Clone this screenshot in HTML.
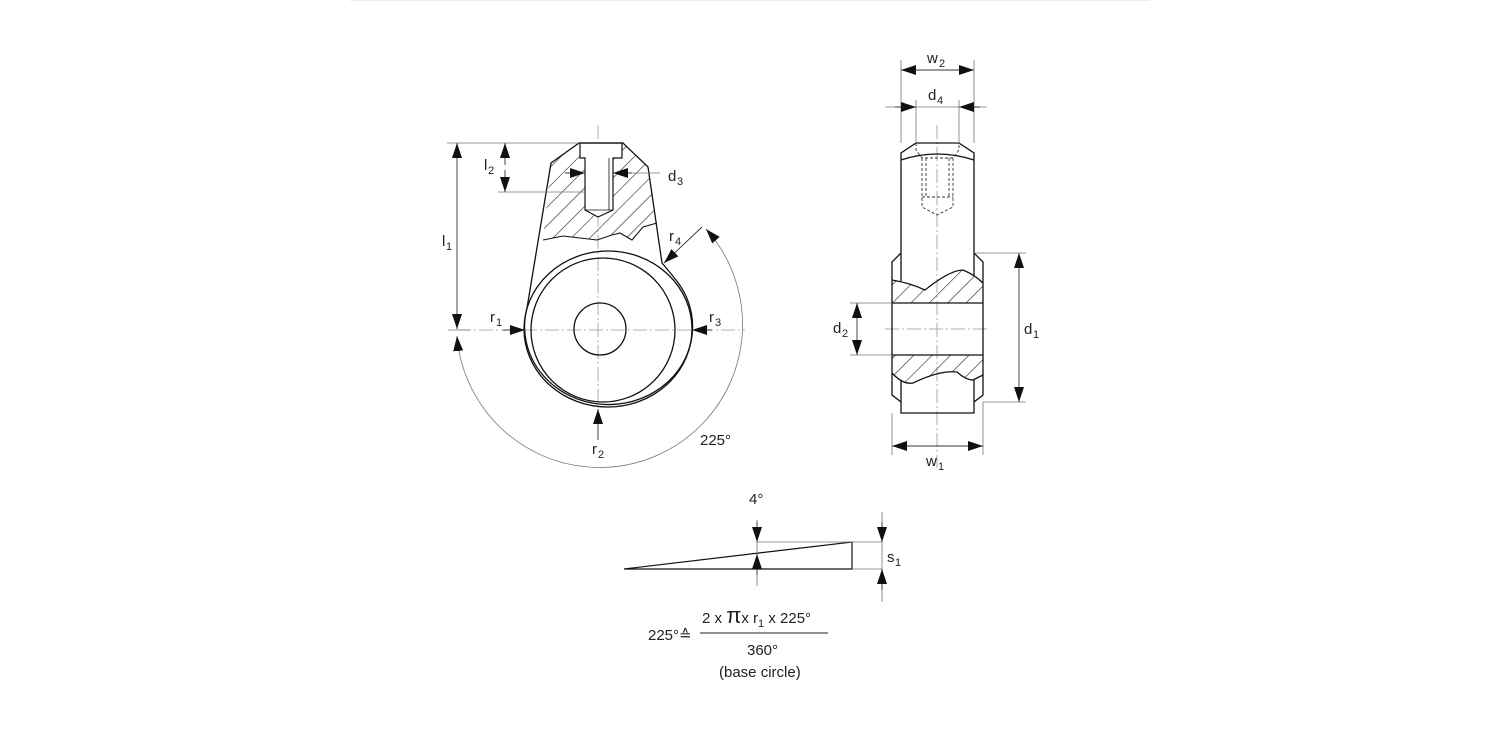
<!DOCTYPE html>
<html><head><meta charset="utf-8"><style>
html,body{margin:0;padding:0;background:#fff;width:1500px;height:750px;overflow:hidden}
svg{display:block}
text{font-family:"Liberation Sans",Arial,sans-serif;font-size:15px;fill:#222}
.s{font-size:11px}
</style></head><body>
<svg width="1500" height="750" viewBox="0 0 1500 750" xmlns="http://www.w3.org/2000/svg">
<defs>
<marker id="a" markerUnits="userSpaceOnUse" markerWidth="16" markerHeight="10" refX="15" refY="5" orient="auto-start-reverse"><path d="M0,0 L15,5 L0,10 Z" fill="#111"/></marker>
<pattern id="h" patternUnits="userSpaceOnUse" width="13" height="13" patternTransform="rotate(-45)"><line x1="0" y1="0" x2="13" y2="0" stroke="#222" stroke-width="1.2"/></pattern>
</defs>
<line x1="350" y1="0.5" x2="1150" y2="0.5" stroke="#eee" stroke-width="1"/>
<g fill="none" stroke="#999" stroke-width="0.8" stroke-dasharray="14,3,2,3">
<line x1="598" y1="125" x2="598" y2="440"/>
<line x1="457" y1="330" x2="745" y2="330"/>
<line x1="937" y1="125" x2="937" y2="468"/>
<line x1="885" y1="329" x2="990" y2="329"/>
</g>
<!-- LEFT VIEW -->
<path d="M551,163 L543,240 L563,236 L580,238 L597,240 L612,235 L620,233 L632,240 L643,227 L657,223 L648,167 L623,143 L579,143 Z" fill="url(#h)" stroke="none"/>
<path d="M580,143 L622,143 L622,158 L613,158 L613,210 L598,217 L585,210 L585,158 L580,158 Z" fill="#fff" stroke="#111" stroke-width="1.2"/>
<line x1="609" y1="158" x2="609" y2="210" stroke="#111" stroke-width="0.8"/>
<line x1="585" y1="210" x2="613" y2="210" stroke="#111" stroke-width="0.8"/>
<polyline points="543,240 563,236 580,238 597,240 612,235 620,233 632,240 643,227 657,223" fill="none" stroke="#111" stroke-width="1.1"/>
<path d="M579,143 L623,143 L648,167 L662,263 Q668,270 676,280 A84,78 0 1 1 527,308 L551,163 Z" fill="none" stroke="#111" stroke-width="1.3"/>
<ellipse cx="608" cy="329" rx="84" ry="78" fill="none" stroke="#111" stroke-width="1.3"/>
<circle cx="603" cy="330" r="72" fill="none" stroke="#111" stroke-width="1.3"/>
<circle cx="600" cy="329" r="26" fill="none" stroke="#111" stroke-width="1.3"/>
<g stroke="#777" stroke-width="0.8" fill="none">
<line x1="447" y1="143" x2="579" y2="143"/>
<line x1="498" y1="192" x2="585" y2="192"/>
<line x1="448" y1="330" x2="470" y2="330"/>
<line x1="614" y1="173" x2="660" y2="173"/>
</g>
<path d="M706,229 A143,143 0 1 1 457,336" fill="none" stroke="#777" stroke-width="0.8" marker-start="url(#a)" marker-end="url(#a)"/>
<g stroke="#333" stroke-width="0.9" fill="none" marker-end="url(#a)">
<line x1="457" y1="236" x2="457" y2="143"/>
<line x1="457" y1="236" x2="457" y2="329"/>
<line x1="505" y1="165" x2="505" y2="143"/>
<line x1="505" y1="170" x2="505" y2="192"/>
<line x1="565" y1="173" x2="585" y2="173"/>
<line x1="632" y1="173" x2="613" y2="173"/>
<line x1="503" y1="330" x2="525" y2="330"/>
<line x1="712" y1="330" x2="692" y2="330"/>
<line x1="598" y1="440" x2="598" y2="409"/>
<line x1="702" y1="227" x2="664" y2="263"/>
</g>
<text x="442" y="246">l</text><text x="446" y="250" class="s">1</text>
<text x="484" y="170">l</text><text x="488" y="174" class="s">2</text>
<text x="668" y="181">d</text><text x="677" y="185" class="s">3</text>
<text x="669" y="241">r</text><text x="675" y="245" class="s">4</text>
<text x="490" y="322">r</text><text x="496" y="326" class="s">1</text>
<text x="709" y="322">r</text><text x="715" y="326" class="s">3</text>
<text x="592" y="454">r</text><text x="598" y="458" class="s">2</text>
<text x="700" y="445">225°</text>
<!-- RIGHT VIEW -->
<path d="M892,280 Q910,283 925,290 Q950,270 963,270 Q975,275 983,283 L983,303 L892,303 Z" fill="url(#h)"/>
<path d="M892,355 L983,355 L983,375 L973,380 Q966,380 957,372 Q940,370 913,383 Q903,385 892,373 Z" fill="url(#h)"/>
<g fill="none" stroke="#111" stroke-width="1.3">
<path d="M901,281 L901,153 L916,143 L959,143 L974,153 L974,276"/>
<path d="M901,160 Q937,148 974,160"/>
<path d="M901,253 L892,262 L892,395 L901,402 L901,413 L974,413 L974,402 L983,395 L983,262 L974,253"/>
<path d="M892,280 Q910,283 925,290 Q950,270 963,270 Q975,275 983,283"/>
<path d="M892,373 Q903,385 913,383 Q940,370 957,372 Q966,380 973,380 L983,375"/>
<line x1="892" y1="303" x2="983" y2="303"/>
<line x1="892" y1="355" x2="983" y2="355"/>
<line x1="901" y1="380" x2="901" y2="402"/>
<line x1="974" y1="380" x2="974" y2="402"/>
</g>
<g fill="none" stroke="#333" stroke-width="0.9" stroke-dasharray="3,2">
<path d="M916,143 L916,150 L922,158 L953,158 L959,150 L959,143"/>
<path d="M922,158 L922,207 L937,215 L953,207 L953,158"/>
<line x1="926" y1="158" x2="926" y2="197"/><line x1="949" y1="158" x2="949" y2="197"/>
<line x1="922" y1="197" x2="953" y2="197"/>
</g>
<g stroke="#777" stroke-width="0.8" fill="none">
<line x1="901" y1="60" x2="901" y2="143"/><line x1="974" y1="60" x2="974" y2="143"/>
<line x1="916" y1="100" x2="916" y2="143"/><line x1="959" y1="100" x2="959" y2="143"/>
<line x1="885" y1="107" x2="987" y2="107"/>
<line x1="850" y1="303" x2="892" y2="303"/><line x1="850" y1="355" x2="892" y2="355"/>
<line x1="974" y1="253" x2="1026" y2="253"/><line x1="983" y1="402" x2="1026" y2="402"/>
<line x1="892" y1="413" x2="892" y2="455"/><line x1="983" y1="402" x2="983" y2="455"/>
</g>
<g stroke="#333" stroke-width="0.9" fill="none" marker-end="url(#a)">
<line x1="937" y1="70" x2="901" y2="70"/><line x1="937" y1="70" x2="974" y2="70"/>
<line x1="895" y1="107" x2="916" y2="107"/><line x1="980" y1="107" x2="959" y2="107"/>
<line x1="857" y1="329" x2="857" y2="303"/><line x1="857" y1="329" x2="857" y2="355"/>
<line x1="1019" y1="328" x2="1019" y2="253"/><line x1="1019" y1="328" x2="1019" y2="402"/>
<line x1="937" y1="446" x2="892" y2="446"/><line x1="937" y1="446" x2="983" y2="446"/>
</g>
<text x="927" y="63">w</text><text x="939" y="67" class="s">2</text>
<text x="928" y="100">d</text><text x="937" y="104" class="s">4</text>
<text x="833" y="333">d</text><text x="842" y="337" class="s">2</text>
<text x="1024" y="334">d</text><text x="1033" y="338" class="s">1</text>
<text x="926" y="466">w</text><text x="938" y="470" class="s">1</text>
<!-- WEDGE -->
<path d="M624,569 L852,542 L852,569 Z" fill="none" stroke="#111" stroke-width="1.2"/>
<g stroke="#777" stroke-width="0.8" fill="none">
<line x1="757" y1="542" x2="882" y2="542"/><line x1="852" y1="569" x2="882" y2="569"/>
<line x1="757" y1="520" x2="757" y2="586"/><line x1="882" y1="512" x2="882" y2="602"/>
</g>
<g stroke="#333" stroke-width="0.9" fill="none" marker-end="url(#a)">
<line x1="757" y1="522" x2="757" y2="542"/><line x1="757" y1="575" x2="757" y2="554"/>
<line x1="882" y1="522" x2="882" y2="542"/><line x1="882" y1="590" x2="882" y2="569"/>
</g>
<text x="749" y="504">4°</text>
<text x="887" y="562">s</text><text x="895" y="566" class="s">1</text>
<text x="648" y="640">225°≙</text>
<text x="702" y="623">2 x <tspan font-size="22">π</tspan>x r<tspan font-size="11" dy="4">1</tspan><tspan dy="-4"> x 225°</tspan></text>
<line x1="700" y1="633" x2="828" y2="633" stroke="#222" stroke-width="1"/>
<text x="747" y="655">360°</text>
<text x="719" y="677">(base circle)</text>
</svg>
</body></html>
